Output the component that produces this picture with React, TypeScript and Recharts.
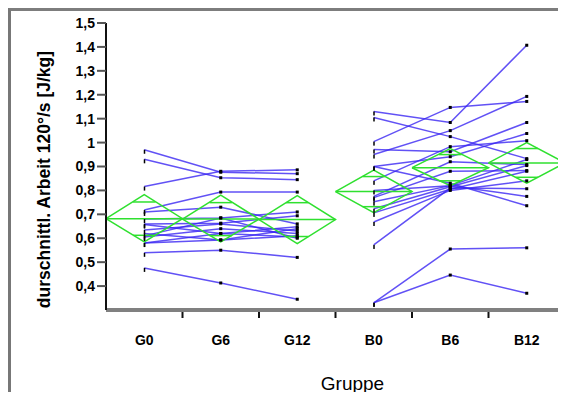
import React from 'react';
import {
  ComposedChart,
  Line,
  XAxis,
  YAxis,
} from 'recharts';

// Gruppen auf der x-Achse
const categories = ['G0', 'G6', 'G12', 'B0', 'B6', 'B12'];
const xTicks = [0.5, 1, 1.5, 2, 2.5, 3, 3.5, 4, 4.5, 5, 5.5];
const yTicks = [0.4, 0.5, 0.6, 0.7, 0.8, 0.9, 1, 1.1, 1.2, 1.3, 1.4, 1.5];

// Einzelverläufe Gruppe G (0, 6, 12)
const gSubjects: number[][] = [
  [0.97, 0.876, 0.87],
  [0.93, 0.853, 0.845],
  [0.816, 0.88, 0.886],
  [0.718, 0.793, 0.793],
  [0.71, 0.73, 0.66],
  [0.68, 0.685, 0.71],
  [0.66, 0.663, 0.694],
  [0.657, 0.62, 0.648],
  [0.635, 0.66, 0.63],
  [0.62, 0.593, 0.61],
  [0.61, 0.685, 0.6],
  [0.605, 0.64, 0.62],
  [0.58, 0.62, 0.605],
  [0.539, 0.55, 0.52],
  [0.58, 0.593, 0.64],
  [0.476, 0.413, 0.345],
];

// Einzelverläufe Gruppe B (0, 6, 12)
const bSubjects: number[][] = [
  [1.13, 1.084, 1.407],
  [1.105, 1.025, 0.933],
  [1.004, 1.147, 1.172],
  [0.95, 1.05, 1.193],
  [0.971, 0.962, 1.084],
  [0.9, 0.941, 1.038],
  [0.84, 0.983, 1.008],
  [0.775, 0.92, 0.908],
  [0.77, 0.88, 0.883],
  [0.753, 0.82, 0.929],
  [0.723, 0.815, 0.904],
  [0.706, 0.805, 0.88],
  [0.668, 0.8, 0.84],
  [0.572, 0.81, 0.807],
  [0.8, 0.82, 0.775],
  [0.9, 0.83, 0.736],
  [0.33, 0.555, 0.56],
  [0.33, 0.446, 0.37],
];

// Mittelwert-Diamanten
const diamondMeans = [0.682, 0.68, 0.678, 0.795, 0.895, 0.915];
const diamondLower = [0.585, 0.585, 0.578, 0.707, 0.82, 0.83];
const diamondUpper = [0.782, 0.78, 0.778, 0.885, 0.975, 1.0];

const BLUE = '#3a26f2';
const GREEN = '#2fe02f';

const toPoints = (vals: number[], offset: number) =>
  vals.map((y, i) => ({ x: offset + i + 0.5, y }));

const SubjectDot = (props: any) => {
  const { cx, cy, index } = props;
  if (cx == null || cy == null) return <g key={`e-${index}`} />;
  if (index === 0) {
    return <rect key={`d-${index}`} x={cx - 0.5} y={cy} width={1.5} height={4} fill="#000" />;
  }
  return <rect key={`d-${index}`} x={cx - 1.5} y={cy - 1.5} width={3} height={3} fill="#000" />;
};

const GroupTick = (props: any) => {
  const { x, y, payload } = props;
  const v = payload.value as number;
  if (Number.isInteger(v)) {
    return <line x1={x} x2={x} y1={y - 6} y2={y} stroke="#111" strokeWidth={2} />;
  }
  return (
    <text x={x} y={y + 27} textAnchor="middle" fontSize={14} fontWeight="bold" fill="#000">
      {categories[Math.floor(v)]}
    </text>
  );
};

const fmt = (v: number) => String(v).replace('.', ',');

const App: React.FC = () => {
  const subjectLines = [
    ...gSubjects.map((s) => toPoints(s, 0)),
    ...bSubjects.map((s) => toPoints(s, 3)),
  ];

  const diamonds = diamondMeans.map((m, i) => [
    { x: i, y: m },
    { x: i + 0.5, y: diamondUpper[i] },
    { x: i + 1, y: m },
    { x: i + 0.5, y: diamondLower[i] },
    { x: i, y: m },
  ]);
  const meanLines = diamondMeans.map((m, i) => [
    { x: i, y: m },
    { x: i + 1, y: m },
  ]);
  const overlapLines = diamondMeans.flatMap((m, i) => {
    const off = (diamondUpper[i] - diamondLower[i]) / 2 / Math.SQRT2;
    const w = 0.5 * (1 - 1 / Math.SQRT2);
    return [m + off, m - off].map((y) => [
      { x: i + 0.5 - w, y },
      { x: i + 0.5 + w, y },
    ]);
  });

  return (
    <div style={{ position: 'relative', width: 566, height: 400, margin: -8, fontFamily: '"Liberation Sans", Arial, sans-serif', background: '#fff' }}>
      <div
        style={{
          position: 'absolute',
          left: 8,
          top: 8,
          width: 558,
          height: 392,
          borderTop: '3px solid #7d7d7d',
          borderLeft: '3px solid #777',
          boxSizing: 'border-box',
        }}
      />
      <div style={{ position: 'absolute', left: 0, top: 0 }}>
        <ComposedChart width={566} height={400} margin={{ top: 23, right: 1, bottom: 0, left: 0 }}>
          <XAxis
            type="number"
            dataKey="x"
            domain={[0, 6]}
            ticks={xTicks}
            interval={0}
            allowDataOverflow
            height={90}
            tickSize={8}
            tickMargin={0}
            tickLine={false}
            axisLine={{ stroke: '#808080', strokeWidth: 4 }}
            tick={<GroupTick />}
            label={{ value: 'Gruppe', position: 'insideBottom', offset: 10, dx: 17, style: { fontSize: 19, fill: '#000' } }}
          />
          <XAxis
            xAxisId="top"
            orientation="top"
            type="number"
            domain={[0, 6]}
            height={0}
            tick={false}
            tickLine={false}
            axisLine={{ stroke: '#333', strokeWidth: 2 }}
          />
          <YAxis
            type="number"
            domain={[0.3, 1.5]}
            ticks={yTicks}
            interval={0}
            allowDataOverflow
            width={106}
            tickSize={9}
            tickMargin={2}
            tickFormatter={fmt}
            tickLine={{ stroke: '#555', strokeWidth: 2 }}
            axisLine={{ stroke: '#111', strokeWidth: 2 }}
            tick={{ fontSize: 14, fontWeight: 'bold', fill: '#000' }}
            label={{
              value: 'durschnittl. Arbeit 120°/s [J/kg]',
              angle: -90,
              position: 'center',
              dx: -9,
              dy: 13,
              style: { fontSize: 17.5, fontWeight: 'bold', fill: '#000' },
            }}
          />
          <YAxis
            yAxisId="right"
            orientation="right"
            width={0}
            tick={false}
            tickLine={false}
            axisLine={{ stroke: '#555', strokeWidth: 2 }}
          />

          {subjectLines.map((pts, i) => (
            <Line
              key={`s-${i}`}
              data={pts}
              dataKey="y"
              type="linear"
              stroke={BLUE}
              strokeWidth={1.5}
              strokeOpacity={0.8}
              dot={<SubjectDot />}
              activeDot={false}
              isAnimationActive={false}
            />
          ))}

          {diamonds.map((pts, i) => (
            <Line
              key={`dm-${i}`}
              data={pts}
              dataKey="y"
              type="linear"
              stroke={GREEN}
              strokeWidth={1.5}
              dot={false}
              activeDot={false}
              isAnimationActive={false}
            />
          ))}
          {meanLines.map((pts, i) => (
            <Line
              key={`ml-${i}`}
              data={pts}
              dataKey="y"
              type="linear"
              stroke={GREEN}
              strokeWidth={1.5}
              dot={false}
              activeDot={false}
              isAnimationActive={false}
            />
          ))}
          {overlapLines.map((pts, i) => (
            <Line
              key={`ol-${i}`}
              data={pts}
              dataKey="y"
              type="linear"
              stroke={GREEN}
              strokeWidth={1.5}
              dot={false}
              activeDot={false}
              isAnimationActive={false}
            />
          ))}
        </ComposedChart>
      </div>
    </div>
  );
};

export default App;
